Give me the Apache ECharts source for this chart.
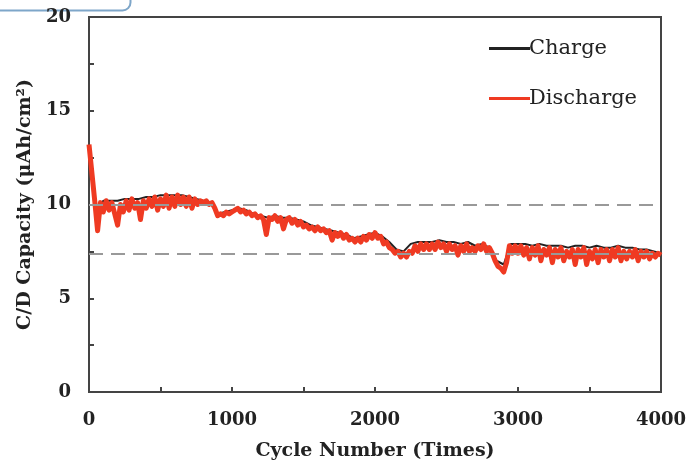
<!DOCTYPE html>
<html>
<head>
<meta charset="utf-8">
<script src="https://cdn.jsdelivr.net/npm/echarts@6/dist/echarts.min.js"></script>
<style>
  html, body { margin: 0; padding: 0; background: #fff; }
  #chart { width: 697px; height: 468px; }
</style>
</head>
<body>
<div id="chart"></div>
<script>
// discharge capacity, read every 20 cycles from 0 to 4000
const dischargeStep = 20;
const dischargeValues = [
  13.2, 11.7, 10.2, 8.6, 10.1, 9.6, 10.2, 9.7, 10.1, 9.5,
  8.9, 10.0, 9.6, 10.2, 9.7, 10.3, 9.8, 10.1, 9.2, 10.2,
  9.8, 10.3, 9.9, 10.4, 9.7, 10.3, 9.9, 10.5, 9.8, 10.4,
  9.9, 10.5, 10.0, 10.4, 9.9, 10.4, 9.8, 10.3, 10.0, 10.2,
  10.1, 10.2, 10.0, 10.1, 9.8, 9.4, 9.5, 9.4, 9.6, 9.5,
  9.6, 9.7, 9.8, 9.6, 9.7, 9.5, 9.6, 9.4, 9.5, 9.3,
  9.4, 9.2, 8.4, 9.3, 9.2, 9.4, 9.1, 9.3, 8.7, 9.2,
  9.3, 9.0, 9.2, 8.9, 9.1, 8.8, 8.9, 8.7, 8.8, 8.6,
  8.8, 8.6, 8.7, 8.5, 8.6, 8.1, 8.5, 8.3, 8.5, 8.2,
  8.4, 8.1, 8.2, 8.0, 8.2, 8.0, 8.3, 8.1, 8.4, 8.2,
  8.5, 8.2, 8.3, 7.9, 8.0, 7.7, 7.6, 7.4, 7.5, 7.2,
  7.4, 7.2, 7.5, 7.4, 7.8, 7.5, 7.9, 7.6, 7.9, 7.6,
  7.9, 7.6, 8.0, 7.7, 7.9, 7.5, 7.9, 7.6, 7.8, 7.3,
  7.8, 7.5, 7.9, 7.5, 7.7, 7.5, 7.8, 7.6, 7.9, 7.5,
  7.7, 7.4, 7.0, 6.7, 6.6, 6.4, 6.9, 7.8, 7.4, 7.8,
  7.4, 7.8, 7.3, 7.7, 7.1, 7.7, 7.3, 7.8, 7.0, 7.6,
  7.3, 7.7, 6.9, 7.6, 7.2, 7.7, 7.0, 7.5, 7.2, 7.6,
  6.8, 7.6, 7.2, 7.7, 6.8, 7.5, 7.1, 7.6, 6.9, 7.6,
  7.2, 7.6, 7.0, 7.6, 7.2, 7.7, 7.0, 7.5, 7.1, 7.5,
  7.2, 7.6, 7.0, 7.5, 7.2, 7.5, 7.1, 7.4, 7.2, 7.4,
  7.3
];

// charge capacity, read every 50 cycles from 0 to 4000
const chargeStep = 50;
const chargeValues = [
  13.0, 9.4, 10.2, 10.2, 10.2, 10.3, 10.3, 10.3, 10.4, 10.4,
  10.5, 10.5, 10.5, 10.5, 10.4, 10.3, 10.2, 10.1, 9.5, 9.6,
  9.7, 9.8, 9.7, 9.5, 9.4, 9.3, 9.4, 9.3, 9.3, 9.2,
  9.1, 8.9, 8.8, 8.7, 8.6, 8.5, 8.4, 8.2, 8.3, 8.4,
  8.5, 8.3, 8.0, 7.6, 7.5, 7.9, 8.0, 8.0, 8.0, 8.1,
  8.0, 8.0, 7.9, 8.0, 7.8, 7.9, 7.7, 7.0, 6.8, 7.9,
  7.9, 7.9, 7.8, 7.9, 7.8, 7.8, 7.8, 7.7, 7.8, 7.8,
  7.7, 7.8, 7.7, 7.7, 7.8, 7.7, 7.7, 7.6, 7.6, 7.5,
  7.4
];

const refLines = [10, 7.4];
const yLabels = [0, 5, 10, 15, 20];
const xLabels = [0, 1000, 2000, 3000, 4000];

const serif = '"DejaVu Serif", "Liberation Serif", serif';

const chart = echarts.init(document.getElementById('chart'));

const option = {
  backgroundColor: '#fff',
  animation: false,
  grid: {
    left: 89, top: 17, right: 36, bottom: 76,
    show: true, borderColor: '#444', borderWidth: 2
  },
  legend: {
    orient: 'vertical',
    left: 484, top: 33,
    itemGap: 29,
    itemWidth: 41, itemHeight: 3,
    icon: 'rect',
    textStyle: { fontFamily: serif, fontSize: 21, color: '#222', padding: [0, 0, 0, -6] },
    data: ['Charge', 'Discharge']
  },
  xAxis: {
    type: 'value', min: 0, max: 4000, interval: 500,
    name: 'Cycle Number (Times)', nameLocation: 'middle', nameGap: 50,
    nameTextStyle: { fontFamily: serif, fontSize: 19, fontWeight: 'bold', color: '#222' },
    axisLine: { lineStyle: { color: '#444', width: 2 } },
    axisTick: { inside: true, length: 5, lineStyle: { color: '#444', width: 2 } },
    splitLine: { show: false },
    axisLabel: {
      margin: 19, fontFamily: serif, fontSize: 18, fontWeight: 'bold', color: '#222',
      formatter: v => xLabels.includes(v) ? String(v) : ''
    }
  },
  yAxis: {
    type: 'value', min: 0, max: 20, interval: 2.5,
    name: 'C/D Capacity (μAh/cm²)', nameLocation: 'middle', nameGap: 52,
    nameTextStyle: { fontFamily: serif, fontSize: 19, fontWeight: 'bold', color: '#222' },
    axisLine: { lineStyle: { color: '#444', width: 2 } },
    axisTick: { inside: true, length: 5, lineStyle: { color: '#444', width: 2 } },
    splitLine: { show: false },
    axisLabel: {
      margin: 18, fontFamily: serif, fontSize: 18, fontWeight: 'bold', color: '#222',
      formatter: v => yLabels.includes(v) ? String(v) : ''
    }
  },
  series: [
    {
      name: 'Charge', type: 'line', showSymbol: false,
      color: '#222',
      lineStyle: { color: '#222', width: 2 },
      data: chargeValues.map((v, i) => [i * chargeStep, v]),
      z: 2
    },
    {
      name: 'Discharge', type: 'line', showSymbol: false,
      color: '#ef3a22',
      lineStyle: { color: '#ef3a22', width: 5, join: 'round' },
      data: dischargeValues.map((v, i) => [i * dischargeStep, v]),
      z: 3,
      markLine: {
        silent: true, symbol: 'none', label: { show: false },
        lineStyle: { color: '#999', type: [14, 8], width: 2 },
        data: refLines.map(v => ({ yAxis: v }))
      }
    }
  ],
  graphic: [
    {
      type: 'rect', left: -12, top: -12,
      shape: { width: 140, height: 20, r: 8 },
      style: { fill: 'none', stroke: '#7ea6c9', lineWidth: 2 }
    }
  ]
};

chart.setOption(option);
window.addEventListener('resize', function () {
  chart.resize();
});
</script>
</body>
</html>
